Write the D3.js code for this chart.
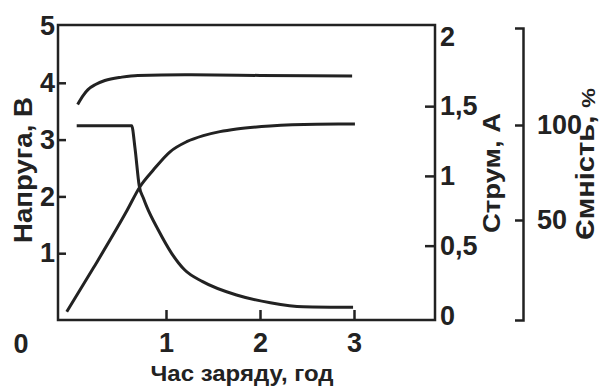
<!DOCTYPE html>
<html><head><meta charset="utf-8">
<script src="https://cdn.jsdelivr.net/npm/d3@7"></script>
<style>
html,body{margin:0;padding:0;background:#fff;}
svg text{font-family:"Liberation Sans",Arial,sans-serif;font-weight:bold;fill:#222;}
</style></head>
<body><svg id="c" width="602" height="389"></svg>
<script>
// ---- data ----
const xTicks = [1, 2, 3];
const vTicks = [1, 2, 3, 4, 5];
const aTicks = [0, 0.5, 1, 1.5, 2];
const aTickLabels = ["0", "0,5", "1", "1,5", "2"];
const capTicks = [50, 100];
// voltage (V) vs time (h)
const voltT = [0.06, 0.12, 0.17, 0.25, 0.35, 0.53, 0.70, 1.2, 2.0, 2.98];
const voltV = [3.62, 3.78, 3.88, 3.97, 4.04, 4.10, 4.13, 4.14, 4.13, 4.12];
// current (A) vs time (h)
const currT = [0.05, 0.635, 0.67, 0.715, 0.76, 0.795, 0.918, 1.06, 1.2, 1.39, 1.75, 2.11, 2.46, 2.99];
const currA = [1.36, 1.36, 1.2, 0.93, 0.84, 0.78, 0.612, 0.445, 0.325, 0.242, 0.146, 0.091, 0.062, 0.058];
// capacity (%) vs time (h)
const capT = [-0.056, 0.227, 0.582, 0.723, 0.865, 1.043, 1.22, 1.397, 1.574, 1.752, 2.106, 2.6, 3.01];
const capP = [1.7, 24.7, 54.7, 67.5, 76.3, 85.9, 91.2, 94.4, 96.5, 97.9, 99.5, 100.4, 100.5];

const svg = d3.select("#c");
const frame = {l: 58, r: 435, t: 25, b: 320};
const x = d3.scaleLinear().domain([0, 3]).range([72, 354]);
const yV = d3.scaleLinear().domain([0, 5]).range([310, 26]);
const yA = d3.scaleLinear().domain([0, 2]).range([315.4, 36.4]);
const yC = d3.scaleLinear().domain([0, 100]).range([315, 125]);
const ink = "#222";

// frame
svg.append("rect").attr("x", frame.l).attr("y", frame.t)
  .attr("width", frame.r - frame.l).attr("height", frame.b - frame.t)
  .attr("fill", "none").attr("stroke", ink).attr("stroke-width", 2.5);

function styleAxis(g, fs) {
  g.select(".domain").remove();
  g.selectAll(".tick line").attr("stroke", ink).attr("stroke-width", 2.5);
  g.selectAll(".tick text").attr("font-size", fs).attr("fill", ink)
    .attr("font-family", null);
}

// left axis (voltage)
const gL = svg.append("g").attr("transform", `translate(${frame.l},0)`)
  .call(d3.axisLeft(yV).tickValues(vTicks).tickFormat(d3.format("d"))
    .tickSizeInner(-8).tickSizeOuter(0).tickPadding(3));
styleAxis(gL, 27);
gL.selectAll(".tick").filter(d => d === 5).select("line").remove();

// bottom axis
const gB = svg.append("g").attr("transform", `translate(0,${frame.b})`)
  .call(d3.axisBottom(x).tickValues(xTicks).tickFormat(d3.format("d"))
    .tickSizeInner(-10).tickSizeOuter(0).tickPadding(13));
styleAxis(gB, 27);

// right axis (current)
const gR = svg.append("g").attr("transform", `translate(${frame.r},0)`)
  .call(d3.axisRight(yA).tickValues(aTicks).tickSizeInner(-10).tickSizeOuter(0).tickPadding(5)
    .tickFormat((d, i) => aTickLabels[i]));
styleAxis(gR, 27);
gR.selectAll(".tick").filter(d => d === 0 || d === 2).select("line").remove();

// capacity axis (bracket)
const yCax = d3.scaleLinear().domain([yC.invert(320), yC.invert(28)]).range([320, 28]);
const gC = svg.append("g").attr("transform", "translate(523,0)")
  .call(d3.axisRight(yCax).tickValues(capTicks).tickFormat(d3.format("d"))
    .tickSizeInner(-8).tickSizeOuter(-8).tickPadding(14));
gC.select(".domain").attr("stroke", ink).attr("stroke-width", 2.5).attr("fill", "none");
gC.selectAll(".tick line").attr("stroke", ink).attr("stroke-width", 2.5);
gC.selectAll(".tick text").attr("font-size", 27).attr("fill", ink).attr("font-family", null);

// origin label
svg.append("text").attr("x", 21).attr("y", 353).attr("text-anchor", "middle")
  .attr("font-size", 27).text("0");

// curves
const line = d3.line().curve(d3.curveMonotoneX);
function draw(ts, vs, ys) {
  svg.append("path").datum(ts.map((t, i) => [x(t), ys(vs[i])]))
    .attr("d", line).attr("fill", "none").attr("stroke", ink)
    .attr("stroke-width", 3).attr("stroke-linejoin", "round");
}
draw(voltT, voltV, yV);
draw(currT, currA, yA);
draw(capT, capP, yC);

// titles
svg.append("text").attr("transform", "translate(32,170) rotate(-90)")
  .attr("text-anchor", "middle").attr("font-size", 25)
  .attr("textLength", 146).attr("lengthAdjust", "spacingAndGlyphs").text("Напруга, В");
svg.append("text").attr("transform", "translate(500,173) rotate(-90)")
  .attr("text-anchor", "middle").attr("font-size", 24)
  .attr("textLength", 120).attr("lengthAdjust", "spacingAndGlyphs").text("Струм, А");
const tC = svg.append("text").attr("transform", "translate(594,164) rotate(-90)")
  .attr("text-anchor", "middle").attr("font-size", 25)
  .attr("textLength", 152).attr("lengthAdjust", "spacingAndGlyphs");
tC.append("tspan").text("Ємність, ");
tC.append("tspan").attr("font-size", 19).attr("dy", 1).text("%");
svg.append("text").attr("x", 242).attr("y", 381).attr("text-anchor", "middle")
  .attr("font-size", 22)
  .attr("textLength", 183).attr("lengthAdjust", "spacingAndGlyphs").text("Час заряду, год");
</script></body></html>
